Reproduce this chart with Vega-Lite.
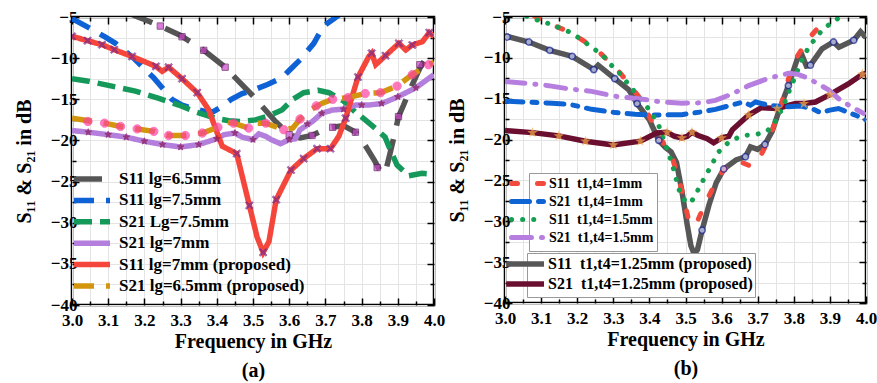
{
  "$schema": "https://vega.github.io/schema/vega-lite/v6.json",
  "padding": {"left": 13, "top": 6, "right": 0, "bottom": 0},
  "spacing": 0,
  "resolve": {"scale": {"color": "independent", "strokeDash": "independent", "shape": "independent", "fill": "independent", "stroke": "independent", "size": "independent"}},
  "config": {
    "font": "Liberation Serif",
    "view": {"stroke": "black", "strokeWidth": 2.5},
    "axis": {"labelFont": "Liberation Serif", "labelFontSize": 17, "labelFontWeight": "bold", "labelColor": "black", "titleFont": "Liberation Serif", "titleFontSize": 20, "titleFontWeight": "bold", "titleColor": "black", "domain": false, "tickColor": "black", "tickWidth": 1.5},
    "legend": {"labelFont": "Liberation Serif", "labelFontWeight": "bold", "labelColor": "black", "title": null, "labelLimit": 500}
  },
  "datasets": {
    "left": [
      {"s":"S11 lg=6.5mm","f":3.15,"v":-4.4},{"s":"S11 lg=6.5mm","f":3.18,"v":-4.95},{"s":"S11 lg=6.5mm","f":3.2,"v":-5.3},{"s":"S11 lg=6.5mm","f":3.244,"v":-6.1},{"s":"S11 lg=6.5mm","f":3.3,"v":-7.25},{"s":"S11 lg=6.5mm","f":3.364,"v":-9.05},{"s":"S11 lg=6.5mm","f":3.423,"v":-11.1},{"s":"S11 lg=6.5mm","f":3.46,"v":-12.8},{"s":"S11 lg=6.5mm","f":3.5,"v":-14.6},{"s":"S11 lg=6.5mm","f":3.52,"v":-15.6},{"s":"S11 lg=6.5mm","f":3.56,"v":-17.6},{"s":"S11 lg=6.5mm","f":3.6,"v":-19.3},{"s":"S11 lg=6.5mm","f":3.63,"v":-19.7},{"s":"S11 lg=6.5mm","f":3.663,"v":-19.4},{"s":"S11 lg=6.5mm","f":3.7,"v":-18.6},{"s":"S11 lg=6.5mm","f":3.72,"v":-18.4},{"s":"S11 lg=6.5mm","f":3.75,"v":-18.2},{"s":"S11 lg=6.5mm","f":3.783,"v":-19.0},{"s":"S11 lg=6.5mm","f":3.81,"v":-20.6},{"s":"S11 lg=6.5mm","f":3.835,"v":-22.4},{"s":"S11 lg=6.5mm","f":3.85,"v":-23.6},{"s":"S11 lg=6.5mm","f":3.865,"v":-24.0},{"s":"S11 lg=6.5mm","f":3.879,"v":-21.5},{"s":"S11 lg=6.5mm","f":3.893,"v":-18.9},{"s":"S11 lg=6.5mm","f":3.902,"v":-17.1},{"s":"S11 lg=6.5mm","f":3.916,"v":-15.7},{"s":"S11 lg=6.5mm","f":3.93,"v":-14.2},{"s":"S11 lg=6.5mm","f":3.961,"v":-11.2},{"s":"S11 lg=6.5mm","f":3.975,"v":-10.2},{"s":"S11 lg=6.5mm","f":4.0,"v":-9.5},
      {"s":"S11 lg=7.5mm","f":3.0,"v":-5.2},{"s":"S11 lg=7.5mm","f":3.055,"v":-6.5},{"s":"S11 lg=7.5mm","f":3.09,"v":-7.4},{"s":"S11 lg=7.5mm","f":3.12,"v":-8.2},{"s":"S11 lg=7.5mm","f":3.17,"v":-10.0},{"s":"S11 lg=7.5mm","f":3.226,"v":-12.4},{"s":"S11 lg=7.5mm","f":3.276,"v":-15.0},{"s":"S11 lg=7.5mm","f":3.304,"v":-15.7},{"s":"S11 lg=7.5mm","f":3.34,"v":-16.2},{"s":"S11 lg=7.5mm","f":3.37,"v":-16.5},{"s":"S11 lg=7.5mm","f":3.39,"v":-16.5},{"s":"S11 lg=7.5mm","f":3.41,"v":-16.0},{"s":"S11 lg=7.5mm","f":3.44,"v":-15.0},{"s":"S11 lg=7.5mm","f":3.47,"v":-14.3},{"s":"S11 lg=7.5mm","f":3.5,"v":-13.9},{"s":"S11 lg=7.5mm","f":3.54,"v":-13.2},{"s":"S11 lg=7.5mm","f":3.58,"v":-12.4},{"s":"S11 lg=7.5mm","f":3.6,"v":-11.5},{"s":"S11 lg=7.5mm","f":3.63,"v":-10.2},{"s":"S11 lg=7.5mm","f":3.668,"v":-8.2},{"s":"S11 lg=7.5mm","f":3.695,"v":-6.1},{"s":"S11 lg=7.5mm","f":3.727,"v":-5.1},{"s":"S11 lg=7.5mm","f":3.75,"v":-4.3},
      {"s":"S21 Lg=7.5mm","f":3.0,"v":-12.5},{"s":"S21 Lg=7.5mm","f":3.046,"v":-12.8},{"s":"S21 Lg=7.5mm","f":3.11,"v":-13.4},{"s":"S21 Lg=7.5mm","f":3.175,"v":-14.0},{"s":"S21 Lg=7.5mm","f":3.24,"v":-14.9},{"s":"S21 Lg=7.5mm","f":3.295,"v":-15.7},{"s":"S21 Lg=7.5mm","f":3.34,"v":-16.5},{"s":"S21 Lg=7.5mm","f":3.396,"v":-17.3},{"s":"S21 Lg=7.5mm","f":3.433,"v":-17.6},{"s":"S21 Lg=7.5mm","f":3.47,"v":-17.7},{"s":"S21 Lg=7.5mm","f":3.507,"v":-17.5},{"s":"S21 Lg=7.5mm","f":3.544,"v":-17.0},{"s":"S21 Lg=7.5mm","f":3.58,"v":-16.3},{"s":"S21 Lg=7.5mm","f":3.61,"v":-15.0},{"s":"S21 Lg=7.5mm","f":3.64,"v":-14.2},{"s":"S21 Lg=7.5mm","f":3.68,"v":-13.9},{"s":"S21 Lg=7.5mm","f":3.71,"v":-14.2},{"s":"S21 Lg=7.5mm","f":3.75,"v":-15.2},{"s":"S21 Lg=7.5mm","f":3.784,"v":-16.6},{"s":"S21 Lg=7.5mm","f":3.81,"v":-17.5},{"s":"S21 Lg=7.5mm","f":3.84,"v":-18.6},{"s":"S21 Lg=7.5mm","f":3.865,"v":-19.6},{"s":"S21 Lg=7.5mm","f":3.875,"v":-20.7},{"s":"S21 Lg=7.5mm","f":3.898,"v":-23.0},{"s":"S21 Lg=7.5mm","f":3.93,"v":-24.3},{"s":"S21 Lg=7.5mm","f":3.967,"v":-24.0},{"s":"S21 Lg=7.5mm","f":4.0,"v":-24.1},
      {"s":"S21 lg=7mm","f":3.0,"v":-18.8},{"s":"S21 lg=7mm","f":3.046,"v":-19.0},{"s":"S21 lg=7mm","f":3.1,"v":-19.3},{"s":"S21 lg=7mm","f":3.15,"v":-19.6},{"s":"S21 lg=7mm","f":3.2,"v":-20.1},{"s":"S21 lg=7mm","f":3.25,"v":-20.5},{"s":"S21 lg=7mm","f":3.3,"v":-20.8},{"s":"S21 lg=7mm","f":3.35,"v":-20.5},{"s":"S21 lg=7mm","f":3.4,"v":-19.8},{"s":"S21 lg=7mm","f":3.42,"v":-19.3},{"s":"S21 lg=7mm","f":3.45,"v":-19.1},{"s":"S21 lg=7mm","f":3.47,"v":-19.6},{"s":"S21 lg=7mm","f":3.5,"v":-19.9},{"s":"S21 lg=7mm","f":3.516,"v":-19.2},{"s":"S21 lg=7mm","f":3.535,"v":-19.5},{"s":"S21 lg=7mm","f":3.55,"v":-19.9},{"s":"S21 lg=7mm","f":3.576,"v":-20.4},{"s":"S21 lg=7mm","f":3.6,"v":-19.9},{"s":"S21 lg=7mm","f":3.617,"v":-19.8},{"s":"S21 lg=7mm","f":3.63,"v":-18.7},{"s":"S21 lg=7mm","f":3.664,"v":-17.7},{"s":"S21 lg=7mm","f":3.69,"v":-16.7},{"s":"S21 lg=7mm","f":3.72,"v":-16.3},{"s":"S21 lg=7mm","f":3.75,"v":-16.2},{"s":"S21 lg=7mm","f":3.784,"v":-15.7},{"s":"S21 lg=7mm","f":3.82,"v":-15.7},{"s":"S21 lg=7mm","f":3.857,"v":-15.5},{"s":"S21 lg=7mm","f":3.9,"v":-14.7},{"s":"S21 lg=7mm","f":3.95,"v":-13.6},{"s":"S21 lg=7mm","f":4.0,"v":-12.0},
      {"s":"S11 lg=7mm (proposed)","f":3.0,"v":-7.35},{"s":"S11 lg=7mm (proposed)","f":3.043,"v":-7.88},{"s":"S11 lg=7mm (proposed)","f":3.083,"v":-8.37},{"s":"S11 lg=7mm (proposed)","f":3.117,"v":-8.98},{"s":"S11 lg=7mm (proposed)","f":3.166,"v":-9.8},{"s":"S11 lg=7mm (proposed)","f":3.232,"v":-11.0},{"s":"S11 lg=7mm (proposed)","f":3.249,"v":-11.6},{"s":"S11 lg=7mm (proposed)","f":3.267,"v":-11.1},{"s":"S11 lg=7mm (proposed)","f":3.304,"v":-12.5},{"s":"S11 lg=7mm (proposed)","f":3.346,"v":-14.2},{"s":"S11 lg=7mm (proposed)","f":3.378,"v":-16.3},{"s":"S11 lg=7mm (proposed)","f":3.396,"v":-18.5},{"s":"S11 lg=7mm (proposed)","f":3.415,"v":-20.7},{"s":"S11 lg=7mm (proposed)","f":3.455,"v":-21.6},{"s":"S11 lg=7mm (proposed)","f":3.49,"v":-27.9},{"s":"S11 lg=7mm (proposed)","f":3.511,"v":-31.7},{"s":"S11 lg=7mm (proposed)","f":3.528,"v":-33.6},{"s":"S11 lg=7mm (proposed)","f":3.544,"v":-32.3},{"s":"S11 lg=7mm (proposed)","f":3.564,"v":-27.2},{"s":"S11 lg=7mm (proposed)","f":3.605,"v":-23.6},{"s":"S11 lg=7mm (proposed)","f":3.64,"v":-22.2},{"s":"S11 lg=7mm (proposed)","f":3.677,"v":-21.0},{"s":"S11 lg=7mm (proposed)","f":3.714,"v":-21.0},{"s":"S11 lg=7mm (proposed)","f":3.737,"v":-19.5},{"s":"S11 lg=7mm (proposed)","f":3.756,"v":-17.3},{"s":"S11 lg=7mm (proposed)","f":3.79,"v":-12.3},{"s":"S11 lg=7mm (proposed)","f":3.82,"v":-9.8},{"s":"S11 lg=7mm (proposed)","f":3.828,"v":-9.4},{"s":"S11 lg=7mm (proposed)","f":3.839,"v":-10.8},{"s":"S11 lg=7mm (proposed)","f":3.866,"v":-9.7},{"s":"S11 lg=7mm (proposed)","f":3.903,"v":-8.2},{"s":"S11 lg=7mm (proposed)","f":3.922,"v":-9.0},{"s":"S11 lg=7mm (proposed)","f":3.94,"v":-8.4},{"s":"S11 lg=7mm (proposed)","f":3.968,"v":-8.0},{"s":"S11 lg=7mm (proposed)","f":3.987,"v":-6.9},{"s":"S11 lg=7mm (proposed)","f":4.0,"v":-7.4},
      {"s":"S21 lg=6.5mm (proposed)","f":3.0,"v":-17.3},{"s":"S21 lg=6.5mm (proposed)","f":3.046,"v":-17.6},{"s":"S21 lg=6.5mm (proposed)","f":3.09,"v":-17.9},{"s":"S21 lg=6.5mm (proposed)","f":3.134,"v":-18.3},{"s":"S21 lg=6.5mm (proposed)","f":3.18,"v":-18.6},{"s":"S21 lg=6.5mm (proposed)","f":3.226,"v":-18.9},{"s":"S21 lg=6.5mm (proposed)","f":3.267,"v":-19.4},{"s":"S21 lg=6.5mm (proposed)","f":3.313,"v":-19.4},{"s":"S21 lg=6.5mm (proposed)","f":3.36,"v":-19.1},{"s":"S21 lg=6.5mm (proposed)","f":3.403,"v":-18.4},{"s":"S21 lg=6.5mm (proposed)","f":3.43,"v":-17.8},{"s":"S21 lg=6.5mm (proposed)","f":3.446,"v":-17.9},{"s":"S21 lg=6.5mm (proposed)","f":3.488,"v":-18.5},{"s":"S21 lg=6.5mm (proposed)","f":3.51,"v":-17.9},{"s":"S21 lg=6.5mm (proposed)","f":3.535,"v":-17.9},{"s":"S21 lg=6.5mm (proposed)","f":3.585,"v":-18.7},{"s":"S21 lg=6.5mm (proposed)","f":3.61,"v":-18.5},{"s":"S21 lg=6.5mm (proposed)","f":3.63,"v":-17.4},{"s":"S21 lg=6.5mm (proposed)","f":3.654,"v":-16.4},{"s":"S21 lg=6.5mm (proposed)","f":3.69,"v":-15.5},{"s":"S21 lg=6.5mm (proposed)","f":3.72,"v":-15.0},{"s":"S21 lg=6.5mm (proposed)","f":3.762,"v":-14.8},{"s":"S21 lg=6.5mm (proposed)","f":3.81,"v":-14.3},{"s":"S21 lg=6.5mm (proposed)","f":3.852,"v":-14.2},{"s":"S21 lg=6.5mm (proposed)","f":3.898,"v":-13.4},{"s":"S21 lg=6.5mm (proposed)","f":3.94,"v":-12.0},{"s":"S21 lg=6.5mm (proposed)","f":3.985,"v":-10.8},{"s":"S21 lg=6.5mm (proposed)","f":4.0,"v":-10.5}
    ],
    "leftm": [
      {"s":"S11 lg=6.5mm","f":3.244,"v":-6.1},{"s":"S11 lg=6.5mm","f":3.304,"v":-7.4},{"s":"S11 lg=6.5mm","f":3.364,"v":-9.05},{"s":"S11 lg=6.5mm","f":3.423,"v":-11.1},{"s":"S11 lg=6.5mm","f":3.6,"v":-19.3},{"s":"S11 lg=6.5mm","f":3.663,"v":-19.4},{"s":"S11 lg=6.5mm","f":3.72,"v":-18.4},{"s":"S11 lg=6.5mm","f":3.783,"v":-19.0},{"s":"S11 lg=6.5mm","f":3.843,"v":-23.3},{"s":"S11 lg=6.5mm","f":3.902,"v":-17.1},{"s":"S11 lg=6.5mm","f":3.961,"v":-10.8},
      {"s":"S21 lg=7mm","f":3.045,"v":-19.0},{"s":"S21 lg=7mm","f":3.1,"v":-19.3},{"s":"S21 lg=7mm","f":3.15,"v":-19.6},{"s":"S21 lg=7mm","f":3.2,"v":-20.1},{"s":"S21 lg=7mm","f":3.25,"v":-20.5},{"s":"S21 lg=7mm","f":3.3,"v":-20.8},{"s":"S21 lg=7mm","f":3.35,"v":-20.5},{"s":"S21 lg=7mm","f":3.4,"v":-19.8},{"s":"S21 lg=7mm","f":3.45,"v":-19.1},{"s":"S21 lg=7mm","f":3.5,"v":-19.9},{"s":"S21 lg=7mm","f":3.6,"v":-19.9},{"s":"S21 lg=7mm","f":3.65,"v":-18.0},{"s":"S21 lg=7mm","f":3.69,"v":-16.7},{"s":"S21 lg=7mm","f":3.75,"v":-16.2},{"s":"S21 lg=7mm","f":3.8,"v":-15.7},{"s":"S21 lg=7mm","f":3.855,"v":-15.5},{"s":"S21 lg=7mm","f":3.9,"v":-14.7},{"s":"S21 lg=7mm","f":3.95,"v":-13.6},
      {"s":"S11 lg=7mm (proposed)","f":3.0,"v":-7.35},{"s":"S11 lg=7mm (proposed)","f":3.043,"v":-7.88},{"s":"S11 lg=7mm (proposed)","f":3.083,"v":-8.37},{"s":"S11 lg=7mm (proposed)","f":3.117,"v":-8.98},{"s":"S11 lg=7mm (proposed)","f":3.166,"v":-9.8},{"s":"S11 lg=7mm (proposed)","f":3.232,"v":-11.0},{"s":"S11 lg=7mm (proposed)","f":3.267,"v":-11.1},{"s":"S11 lg=7mm (proposed)","f":3.304,"v":-12.5},{"s":"S11 lg=7mm (proposed)","f":3.346,"v":-14.2},{"s":"S11 lg=7mm (proposed)","f":3.455,"v":-21.6},{"s":"S11 lg=7mm (proposed)","f":3.49,"v":-27.9},{"s":"S11 lg=7mm (proposed)","f":3.528,"v":-33.6},{"s":"S11 lg=7mm (proposed)","f":3.564,"v":-27.2},{"s":"S11 lg=7mm (proposed)","f":3.605,"v":-23.6},{"s":"S11 lg=7mm (proposed)","f":3.64,"v":-22.2},{"s":"S11 lg=7mm (proposed)","f":3.677,"v":-21.0},{"s":"S11 lg=7mm (proposed)","f":3.714,"v":-21.0},{"s":"S11 lg=7mm (proposed)","f":3.756,"v":-17.3},{"s":"S11 lg=7mm (proposed)","f":3.79,"v":-12.3},{"s":"S11 lg=7mm (proposed)","f":3.828,"v":-9.4},{"s":"S11 lg=7mm (proposed)","f":3.866,"v":-9.7},{"s":"S11 lg=7mm (proposed)","f":3.903,"v":-8.2},{"s":"S11 lg=7mm (proposed)","f":3.94,"v":-8.4},{"s":"S11 lg=7mm (proposed)","f":3.987,"v":-6.9},
      {"s":"S21 lg=6.5mm (proposed)","f":3.044,"v":-17.7},{"s":"S21 lg=6.5mm (proposed)","f":3.09,"v":-17.9},{"s":"S21 lg=6.5mm (proposed)","f":3.134,"v":-18.3},{"s":"S21 lg=6.5mm (proposed)","f":3.18,"v":-18.6},{"s":"S21 lg=6.5mm (proposed)","f":3.226,"v":-18.9},{"s":"S21 lg=6.5mm (proposed)","f":3.267,"v":-19.4},{"s":"S21 lg=6.5mm (proposed)","f":3.313,"v":-19.4},{"s":"S21 lg=6.5mm (proposed)","f":3.36,"v":-19.1},{"s":"S21 lg=6.5mm (proposed)","f":3.403,"v":-18.4},{"s":"S21 lg=6.5mm (proposed)","f":3.446,"v":-17.9},{"s":"S21 lg=6.5mm (proposed)","f":3.488,"v":-18.5},{"s":"S21 lg=6.5mm (proposed)","f":3.535,"v":-17.9},{"s":"S21 lg=6.5mm (proposed)","f":3.585,"v":-18.7},{"s":"S21 lg=6.5mm (proposed)","f":3.63,"v":-17.4},{"s":"S21 lg=6.5mm (proposed)","f":3.675,"v":-15.8},{"s":"S21 lg=6.5mm (proposed)","f":3.72,"v":-15.0},{"s":"S21 lg=6.5mm (proposed)","f":3.762,"v":-14.8},{"s":"S21 lg=6.5mm (proposed)","f":3.81,"v":-14.3},{"s":"S21 lg=6.5mm (proposed)","f":3.852,"v":-14.2},{"s":"S21 lg=6.5mm (proposed)","f":3.898,"v":-13.4},{"s":"S21 lg=6.5mm (proposed)","f":3.94,"v":-12.0},{"s":"S21 lg=6.5mm (proposed)","f":3.985,"v":-10.8}
    ],
    "rightA": [
      {"s":"S11\u00a0\u00a0t1,t4=1mm","f":3.08,"v":-4.8},{"s":"S11\u00a0\u00a0t1,t4=1mm","f":3.1,"v":-5.4},{"s":"S11\u00a0\u00a0t1,t4=1mm","f":3.177,"v":-6.8},{"s":"S11\u00a0\u00a0t1,t4=1mm","f":3.25,"v":-8.8},{"s":"S11\u00a0\u00a0t1,t4=1mm","f":3.32,"v":-11.9},{"s":"S11\u00a0\u00a0t1,t4=1mm","f":3.37,"v":-14.7},{"s":"S11\u00a0\u00a0t1,t4=1mm","f":3.4,"v":-17.2},{"s":"S11\u00a0\u00a0t1,t4=1mm","f":3.43,"v":-19.8},{"s":"S11\u00a0\u00a0t1,t4=1mm","f":3.45,"v":-21.2},{"s":"S11\u00a0\u00a0t1,t4=1mm","f":3.464,"v":-22.3},{"s":"S11\u00a0\u00a0t1,t4=1mm","f":3.49,"v":-26.2},{"s":"S11\u00a0\u00a0t1,t4=1mm","f":3.51,"v":-30.1},{"s":"S11\u00a0\u00a0t1,t4=1mm","f":3.52,"v":-30.6},{"s":"S11\u00a0\u00a0t1,t4=1mm","f":3.535,"v":-29.8},{"s":"S11\u00a0\u00a0t1,t4=1mm","f":3.555,"v":-27.8},{"s":"S11\u00a0\u00a0t1,t4=1mm","f":3.592,"v":-24.5},{"s":"S11\u00a0\u00a0t1,t4=1mm","f":3.62,"v":-23.0},{"s":"S11\u00a0\u00a0t1,t4=1mm","f":3.65,"v":-22.7},{"s":"S11\u00a0\u00a0t1,t4=1mm","f":3.684,"v":-23.3},{"s":"S11\u00a0\u00a0t1,t4=1mm","f":3.71,"v":-21.8},{"s":"S11\u00a0\u00a0t1,t4=1mm","f":3.73,"v":-20.1},{"s":"S11\u00a0\u00a0t1,t4=1mm","f":3.76,"v":-16.5},{"s":"S11\u00a0\u00a0t1,t4=1mm","f":3.785,"v":-12.6},{"s":"S11\u00a0\u00a0t1,t4=1mm","f":3.81,"v":-9.8},{"s":"S11\u00a0\u00a0t1,t4=1mm","f":3.823,"v":-8.9},{"s":"S11\u00a0\u00a0t1,t4=1mm","f":3.85,"v":-7.2},{"s":"S11\u00a0\u00a0t1,t4=1mm","f":3.878,"v":-5.8},{"s":"S11\u00a0\u00a0t1,t4=1mm","f":3.9,"v":-4.6},
      {"s":"S21\u00a0\u00a0t1,t4=1mm","f":3.0,"v":-15.3},{"s":"S21\u00a0\u00a0t1,t4=1mm","f":3.05,"v":-15.4},{"s":"S21\u00a0\u00a0t1,t4=1mm","f":3.13,"v":-15.55},{"s":"S21\u00a0\u00a0t1,t4=1mm","f":3.18,"v":-15.7},{"s":"S21\u00a0\u00a0t1,t4=1mm","f":3.24,"v":-16.3},{"s":"S21\u00a0\u00a0t1,t4=1mm","f":3.305,"v":-16.7},{"s":"S21\u00a0\u00a0t1,t4=1mm","f":3.36,"v":-16.9},{"s":"S21\u00a0\u00a0t1,t4=1mm","f":3.41,"v":-17.0},{"s":"S21\u00a0\u00a0t1,t4=1mm","f":3.49,"v":-16.95},{"s":"S21\u00a0\u00a0t1,t4=1mm","f":3.546,"v":-16.6},{"s":"S21\u00a0\u00a0t1,t4=1mm","f":3.583,"v":-16.3},{"s":"S21\u00a0\u00a0t1,t4=1mm","f":3.643,"v":-15.6},{"s":"S21\u00a0\u00a0t1,t4=1mm","f":3.66,"v":-15.4},{"s":"S21\u00a0\u00a0t1,t4=1mm","f":3.68,"v":-15.8},{"s":"S21\u00a0\u00a0t1,t4=1mm","f":3.694,"v":-15.4},{"s":"S21\u00a0\u00a0t1,t4=1mm","f":3.73,"v":-15.8},{"s":"S21\u00a0\u00a0t1,t4=1mm","f":3.78,"v":-16.0},{"s":"S21\u00a0\u00a0t1,t4=1mm","f":3.82,"v":-15.9},{"s":"S21\u00a0\u00a0t1,t4=1mm","f":3.855,"v":-16.3},{"s":"S21\u00a0\u00a0t1,t4=1mm","f":3.874,"v":-16.7},{"s":"S21\u00a0\u00a0t1,t4=1mm","f":3.9,"v":-16.4},{"s":"S21\u00a0\u00a0t1,t4=1mm","f":3.924,"v":-16.2},{"s":"S21\u00a0\u00a0t1,t4=1mm","f":3.97,"v":-17.0},{"s":"S21\u00a0\u00a0t1,t4=1mm","f":4.0,"v":-17.6},
      {"s":"S11\u00a0\u00a0t1,t4=1.5mm","f":3.06,"v":-4.9},{"s":"S11\u00a0\u00a0t1,t4=1.5mm","f":3.076,"v":-5.2},{"s":"S11\u00a0\u00a0t1,t4=1.5mm","f":3.108,"v":-5.6},{"s":"S11\u00a0\u00a0t1,t4=1.5mm","f":3.145,"v":-6.2},{"s":"S11\u00a0\u00a0t1,t4=1.5mm","f":3.177,"v":-6.8},{"s":"S11\u00a0\u00a0t1,t4=1.5mm","f":3.21,"v":-7.7},{"s":"S11\u00a0\u00a0t1,t4=1.5mm","f":3.24,"v":-8.7},{"s":"S11\u00a0\u00a0t1,t4=1.5mm","f":3.27,"v":-9.65},{"s":"S11\u00a0\u00a0t1,t4=1.5mm","f":3.29,"v":-10.7},{"s":"S11\u00a0\u00a0t1,t4=1.5mm","f":3.32,"v":-12.0},{"s":"S11\u00a0\u00a0t1,t4=1.5mm","f":3.343,"v":-13.3},{"s":"S11\u00a0\u00a0t1,t4=1.5mm","f":3.366,"v":-14.5},{"s":"S11\u00a0\u00a0t1,t4=1.5mm","f":3.39,"v":-15.8},{"s":"S11\u00a0\u00a0t1,t4=1.5mm","f":3.41,"v":-17.0},{"s":"S11\u00a0\u00a0t1,t4=1.5mm","f":3.426,"v":-18.3},{"s":"S11\u00a0\u00a0t1,t4=1.5mm","f":3.444,"v":-20.5},{"s":"S11\u00a0\u00a0t1,t4=1.5mm","f":3.463,"v":-23.0},{"s":"S11\u00a0\u00a0t1,t4=1.5mm","f":3.472,"v":-24.5},{"s":"S11\u00a0\u00a0t1,t4=1.5mm","f":3.484,"v":-26.4},{"s":"S11\u00a0\u00a0t1,t4=1.5mm","f":3.5,"v":-27.6},{"s":"S11\u00a0\u00a0t1,t4=1.5mm","f":3.512,"v":-27.8},{"s":"S11\u00a0\u00a0t1,t4=1.5mm","f":3.524,"v":-27.1},{"s":"S11\u00a0\u00a0t1,t4=1.5mm","f":3.541,"v":-25.6},{"s":"S11\u00a0\u00a0t1,t4=1.5mm","f":3.56,"v":-24.1},{"s":"S11\u00a0\u00a0t1,t4=1.5mm","f":3.592,"v":-21.5},{"s":"S11\u00a0\u00a0t1,t4=1.5mm","f":3.62,"v":-20.3},{"s":"S11\u00a0\u00a0t1,t4=1.5mm","f":3.657,"v":-19.5},{"s":"S11\u00a0\u00a0t1,t4=1.5mm","f":3.694,"v":-19.4},{"s":"S11\u00a0\u00a0t1,t4=1.5mm","f":3.726,"v":-19.0},{"s":"S11\u00a0\u00a0t1,t4=1.5mm","f":3.75,"v":-17.7},{"s":"S11\u00a0\u00a0t1,t4=1.5mm","f":3.77,"v":-16.0},{"s":"S11\u00a0\u00a0t1,t4=1.5mm","f":3.785,"v":-14.3},{"s":"S11\u00a0\u00a0t1,t4=1.5mm","f":3.8,"v":-12.7},{"s":"S11\u00a0\u00a0t1,t4=1.5mm","f":3.82,"v":-10.5},{"s":"S11\u00a0\u00a0t1,t4=1.5mm","f":3.84,"v":-8.8},{"s":"S11\u00a0\u00a0t1,t4=1.5mm","f":3.86,"v":-7.6},{"s":"S11\u00a0\u00a0t1,t4=1.5mm","f":3.883,"v":-6.4},{"s":"S11\u00a0\u00a0t1,t4=1.5mm","f":3.915,"v":-5.4},{"s":"S11\u00a0\u00a0t1,t4=1.5mm","f":3.94,"v":-4.7},
      {"s":"S21\u00a0\u00a0t1,t4=1.5mm","f":3.0,"v":-12.9},{"s":"S21\u00a0\u00a0t1,t4=1.5mm","f":3.056,"v":-13.1},{"s":"S21\u00a0\u00a0t1,t4=1.5mm","f":3.12,"v":-13.4},{"s":"S21\u00a0\u00a0t1,t4=1.5mm","f":3.177,"v":-13.8},{"s":"S21\u00a0\u00a0t1,t4=1.5mm","f":3.24,"v":-14.1},{"s":"S21\u00a0\u00a0t1,t4=1.5mm","f":3.305,"v":-14.7},{"s":"S21\u00a0\u00a0t1,t4=1.5mm","f":3.37,"v":-15.0},{"s":"S21\u00a0\u00a0t1,t4=1.5mm","f":3.435,"v":-15.4},{"s":"S21\u00a0\u00a0t1,t4=1.5mm","f":3.49,"v":-15.55},{"s":"S21\u00a0\u00a0t1,t4=1.5mm","f":3.546,"v":-15.5},{"s":"S21\u00a0\u00a0t1,t4=1.5mm","f":3.583,"v":-15.2},{"s":"S21\u00a0\u00a0t1,t4=1.5mm","f":3.63,"v":-14.4},{"s":"S21\u00a0\u00a0t1,t4=1.5mm","f":3.675,"v":-13.4},{"s":"S21\u00a0\u00a0t1,t4=1.5mm","f":3.73,"v":-12.5},{"s":"S21\u00a0\u00a0t1,t4=1.5mm","f":3.785,"v":-11.9},{"s":"S21\u00a0\u00a0t1,t4=1.5mm","f":3.81,"v":-12.0},{"s":"S21\u00a0\u00a0t1,t4=1.5mm","f":3.84,"v":-12.5},{"s":"S21\u00a0\u00a0t1,t4=1.5mm","f":3.896,"v":-13.9},{"s":"S21\u00a0\u00a0t1,t4=1.5mm","f":3.924,"v":-15.0},{"s":"S21\u00a0\u00a0t1,t4=1.5mm","f":3.96,"v":-16.0},{"s":"S21\u00a0\u00a0t1,t4=1.5mm","f":3.993,"v":-16.8}
    ],
    "rightB": [
      {"s":"S11\u00a0\u00a0t1,t4=1.25mm (proposed)","f":3.0,"v":-7.3},{"s":"S11\u00a0\u00a0t1,t4=1.25mm (proposed)","f":3.066,"v":-8.06},{"s":"S11\u00a0\u00a0t1,t4=1.25mm (proposed)","f":3.124,"v":-9.08},{"s":"S11\u00a0\u00a0t1,t4=1.25mm (proposed)","f":3.186,"v":-9.81},{"s":"S11\u00a0\u00a0t1,t4=1.25mm (proposed)","f":3.246,"v":-11.44},{"s":"S11\u00a0\u00a0t1,t4=1.25mm (proposed)","f":3.258,"v":-10.9},{"s":"S11\u00a0\u00a0t1,t4=1.25mm (proposed)","f":3.304,"v":-12.54},{"s":"S11\u00a0\u00a0t1,t4=1.25mm (proposed)","f":3.343,"v":-13.9},{"s":"S11\u00a0\u00a0t1,t4=1.25mm (proposed)","f":3.366,"v":-15.6},{"s":"S11\u00a0\u00a0t1,t4=1.25mm (proposed)","f":3.4,"v":-17.6},{"s":"S11\u00a0\u00a0t1,t4=1.25mm (proposed)","f":3.426,"v":-20.1},{"s":"S11\u00a0\u00a0t1,t4=1.25mm (proposed)","f":3.445,"v":-21.0},{"s":"S11\u00a0\u00a0t1,t4=1.25mm (proposed)","f":3.46,"v":-21.5},{"s":"S11\u00a0\u00a0t1,t4=1.25mm (proposed)","f":3.475,"v":-22.8},{"s":"S11\u00a0\u00a0t1,t4=1.25mm (proposed)","f":3.49,"v":-26.3},{"s":"S11\u00a0\u00a0t1,t4=1.25mm (proposed)","f":3.505,"v":-30.5},{"s":"S11\u00a0\u00a0t1,t4=1.25mm (proposed)","f":3.515,"v":-33.0},{"s":"S11\u00a0\u00a0t1,t4=1.25mm (proposed)","f":3.524,"v":-34.0},{"s":"S11\u00a0\u00a0t1,t4=1.25mm (proposed)","f":3.533,"v":-33.5},{"s":"S11\u00a0\u00a0t1,t4=1.25mm (proposed)","f":3.546,"v":-31.1},{"s":"S11\u00a0\u00a0t1,t4=1.25mm (proposed)","f":3.565,"v":-28.0},{"s":"S11\u00a0\u00a0t1,t4=1.25mm (proposed)","f":3.585,"v":-25.3},{"s":"S11\u00a0\u00a0t1,t4=1.25mm (proposed)","f":3.606,"v":-23.6},{"s":"S11\u00a0\u00a0t1,t4=1.25mm (proposed)","f":3.64,"v":-22.5},{"s":"S11\u00a0\u00a0t1,t4=1.25mm (proposed)","f":3.666,"v":-22.1},{"s":"S11\u00a0\u00a0t1,t4=1.25mm (proposed)","f":3.68,"v":-20.9},{"s":"S11\u00a0\u00a0t1,t4=1.25mm (proposed)","f":3.7,"v":-21.2},{"s":"S11\u00a0\u00a0t1,t4=1.25mm (proposed)","f":3.72,"v":-20.6},{"s":"S11\u00a0\u00a0t1,t4=1.25mm (proposed)","f":3.74,"v":-19.0},{"s":"S11\u00a0\u00a0t1,t4=1.25mm (proposed)","f":3.758,"v":-16.6},{"s":"S11\u00a0\u00a0t1,t4=1.25mm (proposed)","f":3.785,"v":-13.4},{"s":"S11\u00a0\u00a0t1,t4=1.25mm (proposed)","f":3.81,"v":-10.1},{"s":"S11\u00a0\u00a0t1,t4=1.25mm (proposed)","f":3.822,"v":-9.6},{"s":"S11\u00a0\u00a0t1,t4=1.25mm (proposed)","f":3.835,"v":-11.0},{"s":"S11\u00a0\u00a0t1,t4=1.25mm (proposed)","f":3.846,"v":-10.9},{"s":"S11\u00a0\u00a0t1,t4=1.25mm (proposed)","f":3.878,"v":-8.9},{"s":"S11\u00a0\u00a0t1,t4=1.25mm (proposed)","f":3.91,"v":-8.06},{"s":"S11\u00a0\u00a0t1,t4=1.25mm (proposed)","f":3.925,"v":-8.7},{"s":"S11\u00a0\u00a0t1,t4=1.25mm (proposed)","f":3.966,"v":-7.85},{"s":"S11\u00a0\u00a0t1,t4=1.25mm (proposed)","f":3.985,"v":-6.8},{"s":"S11\u00a0\u00a0t1,t4=1.25mm (proposed)","f":4.0,"v":-7.5},
      {"s":"S21\u00a0\u00a0t1,t4=1.25mm (proposed)","f":3.0,"v":-18.9},{"s":"S21\u00a0\u00a0t1,t4=1.25mm (proposed)","f":3.076,"v":-19.15},{"s":"S21\u00a0\u00a0t1,t4=1.25mm (proposed)","f":3.149,"v":-19.55},{"s":"S21\u00a0\u00a0t1,t4=1.25mm (proposed)","f":3.223,"v":-20.2},{"s":"S21\u00a0\u00a0t1,t4=1.25mm (proposed)","f":3.3,"v":-20.65},{"s":"S21\u00a0\u00a0t1,t4=1.25mm (proposed)","f":3.375,"v":-20.2},{"s":"S21\u00a0\u00a0t1,t4=1.25mm (proposed)","f":3.42,"v":-19.2},{"s":"S21\u00a0\u00a0t1,t4=1.25mm (proposed)","f":3.449,"v":-19.1},{"s":"S21\u00a0\u00a0t1,t4=1.25mm (proposed)","f":3.47,"v":-19.6},{"s":"S21\u00a0\u00a0t1,t4=1.25mm (proposed)","f":3.49,"v":-19.8},{"s":"S21\u00a0\u00a0t1,t4=1.25mm (proposed)","f":3.505,"v":-19.6},{"s":"S21\u00a0\u00a0t1,t4=1.25mm (proposed)","f":3.518,"v":-19.1},{"s":"S21\u00a0\u00a0t1,t4=1.25mm (proposed)","f":3.535,"v":-19.5},{"s":"S21\u00a0\u00a0t1,t4=1.25mm (proposed)","f":3.56,"v":-19.9},{"s":"S21\u00a0\u00a0t1,t4=1.25mm (proposed)","f":3.578,"v":-20.4},{"s":"S21\u00a0\u00a0t1,t4=1.25mm (proposed)","f":3.6,"v":-19.8},{"s":"S21\u00a0\u00a0t1,t4=1.25mm (proposed)","f":3.62,"v":-19.6},{"s":"S21\u00a0\u00a0t1,t4=1.25mm (proposed)","f":3.63,"v":-18.8},{"s":"S21\u00a0\u00a0t1,t4=1.25mm (proposed)","f":3.675,"v":-17.0},{"s":"S21\u00a0\u00a0t1,t4=1.25mm (proposed)","f":3.71,"v":-16.1},{"s":"S21\u00a0\u00a0t1,t4=1.25mm (proposed)","f":3.754,"v":-16.2},{"s":"S21\u00a0\u00a0t1,t4=1.25mm (proposed)","f":3.805,"v":-15.6},{"s":"S21\u00a0\u00a0t1,t4=1.25mm (proposed)","f":3.828,"v":-15.6},{"s":"S21\u00a0\u00a0t1,t4=1.25mm (proposed)","f":3.86,"v":-15.4},{"s":"S21\u00a0\u00a0t1,t4=1.25mm (proposed)","f":3.9,"v":-14.5},{"s":"S21\u00a0\u00a0t1,t4=1.25mm (proposed)","f":3.951,"v":-13.2},{"s":"S21\u00a0\u00a0t1,t4=1.25mm (proposed)","f":3.99,"v":-12.0},{"s":"S21\u00a0\u00a0t1,t4=1.25mm (proposed)","f":4.0,"v":-11.9}
    ],
    "rightm": [
      {"s":"S11\u00a0\u00a0t1,t4=1.25mm (proposed)","f":3.006,"v":-7.45},{"s":"S11\u00a0\u00a0t1,t4=1.25mm (proposed)","f":3.066,"v":-8.06},{"s":"S11\u00a0\u00a0t1,t4=1.25mm (proposed)","f":3.124,"v":-9.08},{"s":"S11\u00a0\u00a0t1,t4=1.25mm (proposed)","f":3.186,"v":-9.81},{"s":"S11\u00a0\u00a0t1,t4=1.25mm (proposed)","f":3.246,"v":-11.44},{"s":"S11\u00a0\u00a0t1,t4=1.25mm (proposed)","f":3.304,"v":-12.54},{"s":"S11\u00a0\u00a0t1,t4=1.25mm (proposed)","f":3.366,"v":-15.6},{"s":"S11\u00a0\u00a0t1,t4=1.25mm (proposed)","f":3.426,"v":-20.1},{"s":"S11\u00a0\u00a0t1,t4=1.25mm (proposed)","f":3.546,"v":-31.1},{"s":"S11\u00a0\u00a0t1,t4=1.25mm (proposed)","f":3.606,"v":-23.6},{"s":"S11\u00a0\u00a0t1,t4=1.25mm (proposed)","f":3.666,"v":-22.1},{"s":"S11\u00a0\u00a0t1,t4=1.25mm (proposed)","f":3.72,"v":-20.6},{"s":"S11\u00a0\u00a0t1,t4=1.25mm (proposed)","f":3.785,"v":-13.4},{"s":"S11\u00a0\u00a0t1,t4=1.25mm (proposed)","f":3.846,"v":-10.9},{"s":"S11\u00a0\u00a0t1,t4=1.25mm (proposed)","f":3.91,"v":-8.06},{"s":"S11\u00a0\u00a0t1,t4=1.25mm (proposed)","f":3.966,"v":-7.85},
      {"s":"S21\u00a0\u00a0t1,t4=1.25mm (proposed)","f":3.076,"v":-19.15},{"s":"S21\u00a0\u00a0t1,t4=1.25mm (proposed)","f":3.149,"v":-19.55},{"s":"S21\u00a0\u00a0t1,t4=1.25mm (proposed)","f":3.223,"v":-20.2},{"s":"S21\u00a0\u00a0t1,t4=1.25mm (proposed)","f":3.3,"v":-20.65},{"s":"S21\u00a0\u00a0t1,t4=1.25mm (proposed)","f":3.375,"v":-20.2},{"s":"S21\u00a0\u00a0t1,t4=1.25mm (proposed)","f":3.449,"v":-19.1},{"s":"S21\u00a0\u00a0t1,t4=1.25mm (proposed)","f":3.49,"v":-19.8},{"s":"S21\u00a0\u00a0t1,t4=1.25mm (proposed)","f":3.518,"v":-19.1},{"s":"S21\u00a0\u00a0t1,t4=1.25mm (proposed)","f":3.6,"v":-19.8},{"s":"S21\u00a0\u00a0t1,t4=1.25mm (proposed)","f":3.675,"v":-17.0},{"s":"S21\u00a0\u00a0t1,t4=1.25mm (proposed)","f":3.754,"v":-16.2},{"s":"S21\u00a0\u00a0t1,t4=1.25mm (proposed)","f":3.828,"v":-15.6},{"s":"S21\u00a0\u00a0t1,t4=1.25mm (proposed)","f":3.9,"v":-14.5},{"s":"S21\u00a0\u00a0t1,t4=1.25mm (proposed)","f":3.99,"v":-12.0}
    ]
  },
  "hconcat": [
    {
      "width": 362, "height": 288,
      "resolve": {"axis": {"x": "independent", "y": "independent"}},
      "layer": [
        {
          "data": {"name": "left"},
          "mark": {"type": "line", "strokeWidth": 5.5, "clip": true, "strokeCap": "butt"},
          "encoding": {
            "x": {"field": "f", "type": "quantitative", "scale": {"domain": [3, 4], "nice": false, "zero": false},
              "axis": {"values": [3,3.05,3.1,3.15,3.2,3.25,3.3,3.35,3.4,3.45,3.5,3.55,3.6,3.65,3.7,3.75,3.8,3.85,3.9,3.95,4],
                "labelExpr": "abs(datum.value*10 - round(datum.value*10)) < 0.001 ? format(datum.value, '.1f') : ''",
                "tickSize": {"condition": {"test": "abs(datum.value*10 - round(datum.value*10)) < 0.001", "value": -7}, "value": -4},
                "grid": true, "gridColor": "#e4e4e4", "gridWidth": 1, "labelPadding": 14, "labelFlush": false,
                "title": ["Frequency in GHz", "(a)"], "titleLineHeight": 29, "titlePadding": 3}},
            "y": {"field": "v", "type": "quantitative", "scale": {"domain": [-40, -5], "nice": false, "zero": false},
              "axis": {"values": [-40,-37.5,-35,-32.5,-30,-27.5,-25,-22.5,-20,-17.5,-15,-12.5,-10,-7.5,-5],
                "labelExpr": "datum.value % 5 == 0 ? format(datum.value, 'd') : ''",
                "tickSize": {"condition": {"test": "datum.value % 5 == 0", "value": -7}, "value": -4},
                "grid": true, "gridColor": "#e4e4e4", "gridWidth": 1, "labelPadding": 2,
                "title": "S\u2081\u2081 & S\u2082\u2081 in dB", "titlePadding": 16}},
            "color": {"field": "s", "type": "nominal",
              "scale": {"domain": ["S11 lg=6.5mm","S11 lg=7.5mm","S21 Lg=7.5mm","S21 lg=7mm","S11 lg=7mm (proposed)","S21 lg=6.5mm (proposed)"],
                "range": ["#555555","#0f62d6","#15995a","#b47fdc","#f5463b","#d3950d"]},
              "legend": {"orient": "none", "legendX": 23, "legendY": 153, "symbolType": "M-5,0H1", "symbolSize": 144, "symbolStrokeWidth": 5.5, "labelFontSize": 17, "labelOffset": 6, "rowPadding": -0.6, "padding": 0, "strokeColor": "transparent", "fillColor": "transparent"}},
            "strokeDash": {"field": "s", "type": "nominal",
              "scale": {"domain": ["S11 lg=6.5mm","S11 lg=7.5mm","S21 Lg=7.5mm","S21 lg=7mm","S11 lg=7mm (proposed)","S21 lg=6.5mm (proposed)"],
                "range": [[28,14],[20,12],[18,8],[1,0],[1,0],[20,12]]}}
          }
        },
        {
          "data": {"name": "leftm"},
          "mark": {"type": "point", "filled": true, "clip": true, "strokeWidth": 1},
          "encoding": {
            "x": {"field": "f", "type": "quantitative", "scale": {"domain": [3, 4], "nice": false, "zero": false},
              "axis": {"orient": "top", "values": [3,3.05,3.1,3.15,3.2,3.25,3.3,3.35,3.4,3.45,3.5,3.55,3.6,3.65,3.7,3.75,3.8,3.85,3.9,3.95,4], "labels": false, "grid": false, "title": null,
                "tickSize": {"condition": {"test": "abs(datum.value*10 - round(datum.value*10)) < 0.001", "value": -7}, "value": -4}}},
            "y": {"field": "v", "type": "quantitative", "scale": {"domain": [-40, -5], "nice": false, "zero": false},
              "axis": {"orient": "right", "values": [-40,-37.5,-35,-32.5,-30,-27.5,-25,-22.5,-20,-17.5,-15,-12.5,-10,-7.5,-5], "labels": false, "grid": false, "title": null,
                "tickSize": {"condition": {"test": "datum.value % 5 == 0", "value": -7}, "value": -4}}},
            "shape": {"field": "s", "type": "nominal", "legend": null,
              "scale": {"domain": ["S11 lg=6.5mm","S21 lg=7mm","S11 lg=7mm (proposed)","S21 lg=6.5mm (proposed)"],
                "range": ["square","M0,-1L0.24,-0.33L0.95,-0.31L0.38,0.12L0.59,0.81L0,0.4L-0.59,0.81L-0.38,0.12L-0.95,-0.31L-0.24,-0.33Z","M-1,-0.7L-0.7,-1L0,-0.3L0.7,-1L1,-0.7L0.3,0L1,0.7L0.7,1L0,0.3L-0.7,1L-1,0.7L-0.3,0Z","circle"]}},
            "fill": {"field": "s", "type": "nominal", "legend": null,
              "scale": {"domain": ["S11 lg=6.5mm","S21 lg=7mm","S11 lg=7mm (proposed)","S21 lg=6.5mm (proposed)"],
                "range": ["#cc44cc","#8a1a55","#7a2a8c","#ff3f9f"]}},
            "stroke": {"field": "s", "type": "nominal", "legend": null,
              "scale": {"domain": ["S11 lg=6.5mm","S21 lg=7mm","S11 lg=7mm (proposed)","S21 lg=6.5mm (proposed)"],
                "range": ["#5a1a5a","#8a1a55","#7a2a8c","#ff3f9f"]}},
            "size": {"field": "s", "type": "nominal", "legend": null,
              "scale": {"domain": ["S11 lg=6.5mm","S21 lg=7mm","S11 lg=7mm (proposed)","S21 lg=6.5mm (proposed)"],
                "range": [40, 70, 55, 55]}}
          }
        }
      ]
    },
    {
      "width": 361, "height": 286,
      "resolve": {"axis": {"x": "independent", "y": "independent"}, "scale": {"stroke": "independent"}, "legend": {"stroke": "independent"}},
      "layer": [
        {
          "data": {"name": "rightB"},
          "mark": {"type": "line", "strokeWidth": 5.5, "clip": true},
          "encoding": {
            "x": {"field": "f", "type": "quantitative", "scale": {"domain": [3, 4], "nice": false, "zero": false},
              "axis": {"values": [3,3.05,3.1,3.15,3.2,3.25,3.3,3.35,3.4,3.45,3.5,3.55,3.6,3.65,3.7,3.75,3.8,3.85,3.9,3.95,4],
                "labelExpr": "abs(datum.value*10 - round(datum.value*10)) < 0.001 ? format(datum.value, '.1f') : ''",
                "tickSize": {"condition": {"test": "abs(datum.value*10 - round(datum.value*10)) < 0.001", "value": -7}, "value": -4},
                "grid": true, "gridColor": "#e4e4e4", "gridWidth": 1, "labelPadding": 14, "labelFlush": false,
                "title": ["Frequency in GHz", "(b)"], "titleLineHeight": 29, "titlePadding": 3}},
            "y": {"field": "v", "type": "quantitative", "scale": {"domain": [-40, -5], "nice": false, "zero": false},
              "axis": {"values": [-40,-37.5,-35,-32.5,-30,-27.5,-25,-22.5,-20,-17.5,-15,-12.5,-10,-7.5,-5],
                "labelExpr": "datum.value % 5 == 0 ? format(datum.value, 'd') : ''",
                "tickSize": {"condition": {"test": "datum.value % 5 == 0", "value": -7}, "value": -4},
                "grid": true, "gridColor": "#e4e4e4", "gridWidth": 1, "labelPadding": 2,
                "title": "S\u2081\u2081 & S\u2082\u2081 in dB", "titlePadding": 16}},
            "stroke": {"field": "s", "type": "nominal",
              "scale": {"domain": ["S11\u00a0\u00a0t1,t4=1.25mm (proposed)","S21\u00a0\u00a0t1,t4=1.25mm (proposed)"], "range": ["#575757","#6a0f2f"]},
              "legend": {"orient": "none", "legendX": 22, "legendY": 236, "symbolType": "M-5.3,0H1", "symbolSize": 144, "symbolStrokeWidth": 5.5, "labelFontSize": 16, "labelOffset": 1, "rowPadding": -4, "strokeColor": "#999999", "padding": 2, "fillColor": "white"}}
          }
        },
        {
          "data": {"name": "rightA"},
          "mark": {"type": "line", "strokeWidth": 5, "clip": true, "strokeCap": "round"},
          "encoding": {
            "x": {"field": "f", "type": "quantitative", "scale": {"domain": [3, 4], "nice": false, "zero": false}, "axis": null},
            "y": {"field": "v", "type": "quantitative", "scale": {"domain": [-40, -5], "nice": false, "zero": false}, "axis": null},
            "color": {"field": "s", "type": "nominal",
              "scale": {"domain": ["S11\u00a0\u00a0t1,t4=1mm","S21\u00a0\u00a0t1,t4=1mm","S11\u00a0\u00a0t1,t4=1.5mm","S21\u00a0\u00a0t1,t4=1.5mm"],
                "range": ["#f24a3c","#0f64d4","#14a050","#b67fdf"]},
              "legend": {"orient": "none", "legendX": 24, "legendY": 156, "symbolType": "M-5.6,0H1", "symbolSize": 100, "symbolStrokeWidth": 5, "labelFontSize": 14, "labelOffset": 2, "rowPadding": -6.5, "strokeColor": "#999999", "padding": 3, "fillColor": "white",
                "encode": {"symbols": {"update": {"strokeCap": {"value": "round"}}}}}},
            "strokeDash": {"field": "s", "type": "nominal",
              "scale": {"domain": ["S11\u00a0\u00a0t1,t4=1mm","S21\u00a0\u00a0t1,t4=1mm","S11\u00a0\u00a0t1,t4=1.5mm","S21\u00a0\u00a0t1,t4=1.5mm"],
                "range": [[6,20],[18,9,5,9],[0.1,11],[20,10,1,10]]}}
          }
        },
        {
          "data": {"name": "rightm"},
          "mark": {"type": "point", "filled": true, "clip": true, "strokeWidth": 1.5},
          "encoding": {
            "x": {"field": "f", "type": "quantitative", "scale": {"domain": [3, 4], "nice": false, "zero": false},
              "axis": {"orient": "top", "values": [3,3.05,3.1,3.15,3.2,3.25,3.3,3.35,3.4,3.45,3.5,3.55,3.6,3.65,3.7,3.75,3.8,3.85,3.9,3.95,4], "labels": false, "grid": false, "title": null,
                "tickSize": {"condition": {"test": "abs(datum.value*10 - round(datum.value*10)) < 0.001", "value": -7}, "value": -4}}},
            "y": {"field": "v", "type": "quantitative", "scale": {"domain": [-40, -5], "nice": false, "zero": false},
              "axis": {"orient": "right", "values": [-40,-37.5,-35,-32.5,-30,-27.5,-25,-22.5,-20,-17.5,-15,-12.5,-10,-7.5,-5], "labels": false, "grid": false, "title": null,
                "tickSize": {"condition": {"test": "datum.value % 5 == 0", "value": -7}, "value": -4}}},
            "shape": {"field": "s", "type": "nominal", "legend": null,
              "scale": {"domain": ["S11\u00a0\u00a0t1,t4=1.25mm (proposed)","S21\u00a0\u00a0t1,t4=1.25mm (proposed)"],
                "range": ["circle","M0,-1L0.24,-0.33L0.95,-0.31L0.38,0.12L0.59,0.81L0,0.4L-0.59,0.81L-0.38,0.12L-0.95,-0.31L-0.24,-0.33Z"]}},
            "fill": {"field": "s", "type": "nominal", "legend": null,
              "scale": {"domain": ["S11\u00a0\u00a0t1,t4=1.25mm (proposed)","S21\u00a0\u00a0t1,t4=1.25mm (proposed)"], "range": ["#c9d0ff","#f7ad4a"]}},
            "stroke": {"field": "s", "type": "nominal", "legend": null,
              "scale": {"domain": ["S11\u00a0\u00a0t1,t4=1.25mm (proposed)","S21\u00a0\u00a0t1,t4=1.25mm (proposed)"], "range": ["#1c2a9c","#f7ad4a"]}},
            "size": {"field": "s", "type": "nominal", "legend": null,
              "scale": {"domain": ["S11\u00a0\u00a0t1,t4=1.25mm (proposed)","S21\u00a0\u00a0t1,t4=1.25mm (proposed)"], "range": [40, 45]}}
          }
        }
      ]
    }
  ]
}
